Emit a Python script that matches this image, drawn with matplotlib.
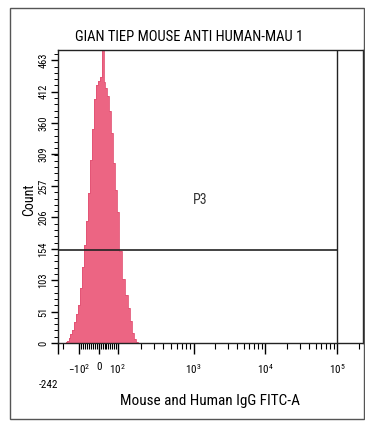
import numpy as np
import matplotlib
matplotlib.use("Agg")
import matplotlib.pyplot as plt
from matplotlib import font_manager
from matplotlib.patches import Rectangle

# ---------------- data ----------------
title = "GIAN TIEP MOUSE ANTI HUMAN-MAU 1"
xlabel = "Mouse and Human IgG FITC-A"
ylabel = "Count"
gate_name = "P3"

bin_centers = [-170, -160, -150, -140, -130, -120, -110, -100, -90, -80, -70, -60, -50,
               -40, -30, -20, -10, 0, 10, 20, 30, 40, 50, 60, 70, 80, 90, 100,
               110, 120, 130, 140, 150, 160, 170, 180]
counts = [2, 4, 8, 14, 22, 34, 48, 62, 90, 125, 160, 200, 245,
          300, 350, 400, 422, 430, 436, 505, 428, 418, 405, 380, 344, 295, 250, 215,
          150, 105, 78, 58, 36, 16, 6, 2]
bin_width = 10

x_major = [-242, -100, 0, 100, 1000, 10000, 100000]
x_major_labels = ["", r"$-10^2$", "0", r"$10^2$", r"$10^3$", r"$10^4$", r"$10^5$"]
x_min, x_max = -242, 229000

y_ticks = [0, 51, 103, 154, 206, 257, 309, 360, 412, 463]
y_max = 480

gate_level = 152          # horizontal gate marker (count)
gate_right = 100000       # right gate boundary

# ---------------- fonts ----------------
avail = {f.name for f in font_manager.fontManager.ttflist}
narrow = next((f for f in ["Liberation Sans Narrow", "DejaVu Sans Condensed",
                           "Roboto Condensed", "Liberation Sans"] if f in avail), "DejaVu Sans")
plt.rcParams['font.family'] = [narrow, 'DejaVu Sans']
plt.rcParams['mathtext.fontset'] = 'custom'
plt.rcParams['mathtext.rm'] = narrow
plt.rcParams['mathtext.it'] = narrow

# ---------------- biexponential-like scale ----------------
# s-space: linear within +-100, log10 beyond; then mapped to display decades
S_ANCH = np.array([-10.0, -1.3838, -1.0, 0.0, 1.0, 2.0, 3.0, 4.0, 10.0])
P_ANCH = np.array([-6.5, -0.569, -0.278, 0.0, 0.264, 1.32, 2.32, 3.32, 9.32])


def _s(x):
    x = np.asarray(x, dtype=float)
    ax_ = np.abs(x)
    big = np.sign(x) * (1 + np.log10(np.maximum(ax_, 1e-12) / 100.0))
    return np.where(ax_ <= 100, x / 100.0, big)


def _sinv(s):
    s = np.asarray(s, dtype=float)
    return np.where(np.abs(s) <= 1, s * 100.0, np.sign(s) * 100.0 * 10 ** (np.abs(s) - 1))


def forward(x):
    return np.interp(_s(x), S_ANCH, P_ANCH)


def backward(p):
    return _sinv(np.interp(p, P_ANCH, S_ANCH))


# ---------------- figure ----------------
W, H = 365, 421
fig = plt.figure(figsize=(W / 100, H / 100), dpi=100)
fig.patch.set_facecolor('white')

# outer frame
fig.add_artist(Rectangle((10 / W, 1 - 419 / H), (364 - 10) / W, (419 - 8) / H,
                         transform=fig.transFigure, fill=False, edgecolor='#555555', lw=1.0))

ax = fig.add_axes([58 / W, 1 - 343 / H, (363 - 58) / W, (343 - 50) / H])
ax.set_xscale('function', functions=(forward, backward))
ax.set_xlim(x_min, x_max)
ax.set_ylim(0, y_max)

edges = np.concatenate([np.array(bin_centers) - bin_width / 2,
                        [bin_centers[-1] + bin_width / 2]])
ax.stairs(counts, edges, fill=True, color='#ec6583', zorder=2)
ax.stairs(counts, edges, fill=False, color='#e25274', lw=0.6, zorder=2)

# gate
ax.plot([x_min, gate_right], [gate_level, gate_level], color='#222222', lw=1.2, zorder=3)
ax.axvline(gate_right, color='#222222', lw=1.0, zorder=3)
ax.text(1250, 234, gate_name, fontsize=10, color='#333333', ha='center', va='center')

# x ticks
ax.set_xticks(x_major)
ax.set_xticklabels(x_major_labels, fontsize=8)
minors = ([-200] + list(range(-90, 100, 10)) +
          [m * 10 ** e for e in (2, 3, 4) for m in range(2, 10)] + [200000])
ax.set_xticks([m for m in minors if m not in x_major], minor=True)
ax.tick_params(axis='x', which='major', length=8, width=1.0, pad=6, direction='out')
ax.tick_params(axis='x', which='minor', length=4, width=0.8, direction='out')
ax.text(-242, -0.145, "-242", transform=ax.get_xaxis_transform(), fontsize=8,
        ha='right', va='center')

# y ticks
ax.set_yticks(y_ticks)
ax.set_yticklabels([str(t) for t in y_ticks], rotation=90, fontsize=7.5, va='center')
ax.set_yticks(np.arange(0, y_max, 463 / 45), minor=True)
ax.tick_params(axis='y', which='major', length=5, width=1.0, pad=2)
ax.tick_params(axis='y', which='minor', length=3, width=0.7)

for sp in ax.spines.values():
    sp.set_linewidth(1.0)
    sp.set_color('#222222')

fig.text(189 / W, 1 - 37 / H, title, fontsize=10.5, ha='center', va='center')
fig.text(210 / W, 1 - 401 / H, xlabel, fontsize=11, ha='center', va='center')
fig.text(29 / W, 1 - 200 / H, ylabel, fontsize=10, ha='center', va='center', rotation=90)

fig.savefig("out.png", dpi=100)
